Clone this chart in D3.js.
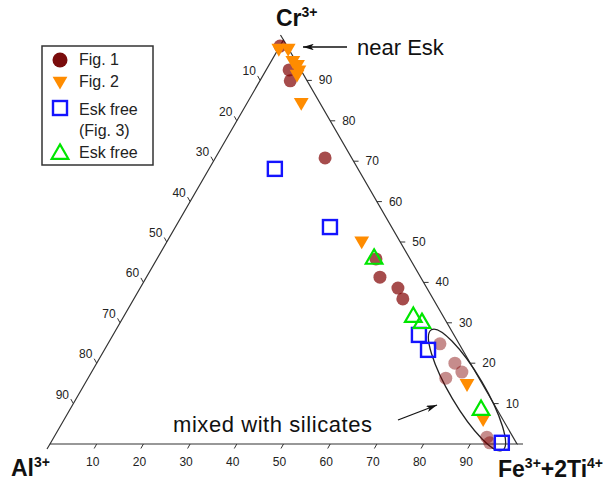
<!DOCTYPE html>
<html>
<head>
<meta charset="utf-8">
<script src="https://cdn.jsdelivr.net/npm/d3@7"></script>
<style>
  body { margin: 0; background: #fff; }
  svg { font-family: "Liberation Sans", Arial, sans-serif; }
  .tick-label { font-size: 12px; fill: #222; }
  .vertex { font-size: 23px; font-weight: bold; fill: #111; }
  .legend-text { font-size: 16px; fill: #222; }
  .note { font-size: 22px; fill: #111; }
</style>
</head>
<body>
<svg width="610" height="481"></svg>
<script>
// points as [Al, Cr, Fe+2Ti] in %
const fig1 = [
  [1.5, 98.5, 0], [2.5, 92.6, 4.9], [3.6, 89.9, 6.5], [5.7, 70.8, 23.5],
  [7.3, 45.8, 46.9], [8.7, 41.3, 50.0], [6.2, 38.6, 55.2], [6.5, 35.9, 57.6]
]
const fig1Mixed = [
  [4.1, 24.8, 71.1], [3.3, 20.0, 76.7], [2.9, 17.8, 79.3], [7.1, 16.3, 76.6],
  [5.6, 1.7, 92.7], [5.7, 0.3, 94.0]
]
const fig2 = [
  [2, 98, 0], [0, 98, 2], [0.5, 95, 4.5], [0, 94, 6], [0.4, 92.6, 7],
  [1.3, 91.6, 7.1], [3.9, 84.6, 11.5], [8.1, 50.3, 41.6], [3.2, 15.0, 81.8],
  [4.1, 6.3, 89.6]
]
const eskFree3 = [
  [17.8, 68.1, 14.1], [13.2, 53.7, 33.1], [7.5, 27.0, 65.5], [7.4, 23.3, 69.3],
  [3.1, 0.3, 96.6]
]
const eskFree = [
  [7.7, 45.8, 46.5], [6.5, 31.4, 62.1], [5.4, 29.9, 64.7], [3.5, 8.4, 88.1]
]
const ticks = [10, 20, 30, 40, 50, 60, 70, 80, 90]

const svg = d3.select("svg")

const baseScale = d3.scaleLinear().domain([0, 100]).range([50, 517])
const heightScale = d3.scaleLinear().domain([0, 100]).range([444, 40])

const px = (d) => {
    const s = d[0] + d[1] + d[2]
    const cr = d[1] / s * 100, fe = d[2] / s * 100
    return [baseScale(fe + cr / 2), heightScale(cr)]
}

const A = px([100, 0, 0]), C = px([0, 100, 0]), F = px([0, 0, 100])

// frame
svg.append("path")
    .attr("d", `M${A}L${C}L${F}Z`)
    .attr("fill", "none")
    .attr("stroke", "#333")
    .attr("stroke-width", 1.2)

// small overhangs at the corners
svg.append("path")
    .attr("d", `M${F[0]},${F[1]}L${F[0] + 6},${F[1]}M${A[0]},${A[1]}L${A[0] - 3},${A[1] + 5}M${C[0]},${C[1]}L${C[0] - 3},${C[1] - 5}`)
    .attr("stroke", "#333").attr("stroke-width", 1.2)

// bottom axis: Fe, ticks hang outward along the iso-lines
const bottom = svg.append("g").attr("class", "bottom-axis")
ticks.forEach(t => {
    const p = px([100 - t, 0, t])
    bottom.append("line")
        .attr("x1", p[0]).attr("y1", p[1])
        .attr("x2", p[0] - 2.5).attr("y2", p[1] + 4.5)
        .attr("stroke", "#333")
    bottom.append("text").attr("class", "tick-label")
        .attr("x", p[0] - 4).attr("y", p[1] + 22)
        .attr("text-anchor", "middle")
        .text(t)
})

// left axis: Al
const left = svg.append("g").attr("class", "left-axis")
ticks.forEach(t => {
    const p = px([t, 100 - t, 0])
    left.append("line")
        .attr("x1", p[0]).attr("y1", p[1])
        .attr("x2", p[0] - 2.5).attr("y2", p[1] - 4.5)
        .attr("stroke", "#333")
    left.append("text").attr("class", "tick-label")
        .attr("x", p[0] - 11).attr("y", p[1] - 5)
        .attr("text-anchor", "middle")
        .text(t)
})

// right axis: Cr
const right = svg.append("g").attr("class", "right-axis")
ticks.forEach(t => {
    const p = px([0, t, 100 - t])
    right.append("line")
        .attr("x1", p[0]).attr("y1", p[1])
        .attr("x2", p[0] + 5).attr("y2", p[1])
        .attr("stroke", "#333")
    right.append("text").attr("class", "tick-label")
        .attr("x", p[0] + 12).attr("y", p[1] + 4)
        .text(t)
})

// vertex labels
const crLabel = svg.append("text").attr("class", "vertex").attr("x", 276).attr("y", 26)
crLabel.append("tspan").text("Cr")
crLabel.append("tspan").attr("font-size", 14).attr("dy", -9).text("3+")

const alLabel = svg.append("text").attr("class", "vertex").attr("x", 11).attr("y", 476)
alLabel.append("tspan").text("Al")
alLabel.append("tspan").attr("font-size", 14).attr("dy", -9).text("3+")

const feLabel = svg.append("text").attr("class", "vertex").attr("x", 498).attr("y", 477)
feLabel.append("tspan").text("Fe")
feLabel.append("tspan").attr("font-size", 14).attr("dy", -9).text("3+")
feLabel.append("tspan").attr("dy", 9).text("+2Ti")
feLabel.append("tspan").attr("font-size", 14).attr("dy", -9).text("4+")

// ellipse round the mixed points
svg.append("ellipse")
    .attr("cx", 467).attr("cy", 390)
    .attr("rx", 70).attr("ry", 17)
    .attr("transform", "rotate(59.4 467 390)")
    .attr("fill", "none")
    .attr("stroke", "#222")
    .attr("stroke-width", 1.3)

// data marks
const marks = svg.append("g").attr("class", "marks")

marks.selectAll("circle.fig1m")
    .data(fig1Mixed).enter().append("circle")
    .attr("class", "fig1m")
    .attr("cx", d => px(d)[0]).attr("cy", d => px(d)[1])
    .attr("r", 6.5)
    .attr("fill", "#800000").attr("fill-opacity", 0.45)

marks.selectAll("circle.fig1")
    .data(fig1).enter().append("circle")
    .attr("class", "fig1")
    .attr("cx", d => px(d)[0]).attr("cy", d => px(d)[1])
    .attr("r", 6.5)
    .attr("fill", "#800000").attr("fill-opacity", 0.7)

const downTri = d3.symbol().type(d3.symbolTriangle).size(95)
const upTri = d3.symbol().type(d3.symbolTriangle).size(120)

marks.selectAll("path.fig2")
    .data(fig2).enter().append("path")
    .attr("class", "fig2")
    .attr("d", downTri)
    .attr("transform", d => `translate(${px(d)}) rotate(180)`)
    .attr("fill", "#ff8c00")

marks.selectAll("rect.esk3")
    .data(eskFree3).enter().append("rect")
    .attr("class", "esk3")
    .attr("x", d => px(d)[0] - 7).attr("y", d => px(d)[1] - 7)
    .attr("width", 14).attr("height", 14)
    .attr("fill", "none")
    .attr("stroke", "#1414ff")
    .attr("stroke-width", 2.4)

marks.selectAll("path.esk")
    .data(eskFree).enter().append("path")
    .attr("class", "esk")
    .attr("d", upTri)
    .attr("transform", d => `translate(${px(d)})`)
    .attr("fill", "none")
    .attr("stroke", "#00e600")
    .attr("stroke-width", 2.2)

// annotations
svg.append("defs").append("marker")
    .attr("id", "arrow")
    .attr("viewBox", "0 0 10 6")
    .attr("refX", 10).attr("refY", 3)
    .attr("markerWidth", 11).attr("markerHeight", 6.5)
    .attr("markerUnits", "userSpaceOnUse")
    .attr("orient", "auto")
    .append("path")
    .attr("d", "M0,0L10,3L0,6L2.5,3Z")
    .attr("fill", "#111")

svg.append("line")
    .attr("x1", 347).attr("y1", 47).attr("x2", 303).attr("y2", 47)
    .attr("stroke", "#111").attr("stroke-width", 1.3)
    .attr("marker-end", "url(#arrow)")

svg.append("text").attr("class", "note")
    .attr("x", 357).attr("y", 55)
    .text("near Esk")

svg.append("line")
    .attr("x1", 398).attr("y1", 420).attr("x2", 437).attr("y2", 405)
    .attr("stroke", "#111").attr("stroke-width", 1.3)
    .attr("marker-end", "url(#arrow)")

svg.append("text").attr("class", "note")
    .attr("x", 173).attr("y", 432)
    .attr("textLength", 199)
    .text("mixed with silicates")

// legend
const legend = svg.append("g").attr("class", "legend")

legend.append("rect")
    .attr("x", 42).attr("y", 46)
    .attr("width", 111).attr("height", 119)
    .attr("fill", "#fff")
    .attr("stroke", "#333")
    .attr("stroke-width", 1.5)

legend.append("circle")
    .attr("cx", 60).attr("cy", 60).attr("r", 7.5)
    .attr("fill", "#7a0c0c")
legend.append("path")
    .attr("d", downTri)
    .attr("transform", "translate(60,81) rotate(180)")
    .attr("fill", "#ff8c00")
legend.append("rect")
    .attr("x", 53).attr("y", 101).attr("width", 14).attr("height", 14)
    .attr("fill", "none").attr("stroke", "#1414ff").attr("stroke-width", 2.4)
legend.append("path")
    .attr("d", upTri)
    .attr("transform", "translate(60,154)")
    .attr("fill", "none").attr("stroke", "#00e600").attr("stroke-width", 2.2)

const legendLabels = [["Fig. 1", 65], ["Fig. 2", 87], ["Esk free", 115], ["(Fig. 3)", 136], ["Esk free", 158]]
legend.selectAll("text")
    .data(legendLabels).enter().append("text")
    .attr("class", "legend-text")
    .attr("x", 79)
    .attr("y", d => d[1])
    .text(d => d[0])
</script>
</body>
</html>
